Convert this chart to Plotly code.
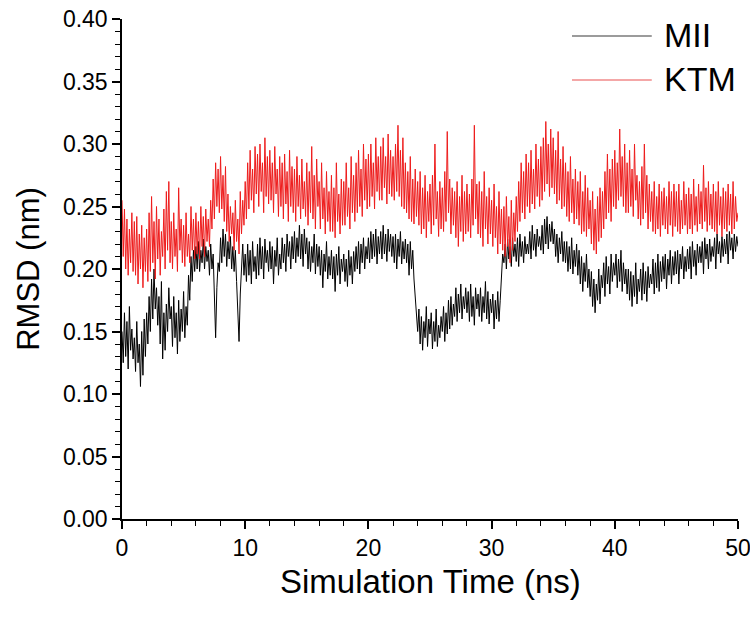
import plotly.graph_objects as go

# ---------------- data ----------------
TIME_STEP_NS = 0.1  # sampling step of the series below (0 .. 50 ns)

mii_rmsd = [
    0.150, 0.125, 0.165, 0.130, 0.158, 0.120, 0.170, 0.135, 0.152, 0.128,
    0.145, 0.118, 0.158, 0.125, 0.140, 0.106, 0.150, 0.115, 0.160, 0.130,
    0.165, 0.140, 0.178, 0.150, 0.192, 0.160, 0.200, 0.168, 0.185, 0.155,
    0.178, 0.140, 0.190, 0.128, 0.165, 0.135, 0.172, 0.150, 0.185, 0.160,
    0.170, 0.138, 0.178, 0.145, 0.165, 0.132, 0.175, 0.142, 0.168, 0.150,
    0.182, 0.145, 0.170, 0.155, 0.195, 0.175, 0.210, 0.190, 0.215, 0.198,
    0.218, 0.200, 0.222, 0.198, 0.215, 0.205, 0.224, 0.200, 0.218, 0.206,
    0.215, 0.195, 0.220, 0.200, 0.212, 0.170, 0.145, 0.185, 0.205, 0.198,
    0.225, 0.205, 0.232, 0.210, 0.228, 0.202, 0.222, 0.208, 0.226, 0.200,
    0.218, 0.198, 0.215, 0.190, 0.165, 0.142, 0.180, 0.205, 0.220, 0.195,
    0.212, 0.190, 0.220, 0.195, 0.215, 0.188, 0.222, 0.198, 0.210, 0.192,
    0.220, 0.195, 0.225, 0.200, 0.218, 0.192, 0.224, 0.205, 0.215, 0.198,
    0.222, 0.200, 0.218, 0.188, 0.215, 0.202, 0.225, 0.195, 0.212, 0.200,
    0.225, 0.205, 0.220, 0.198, 0.228, 0.210, 0.222, 0.200, 0.226, 0.208,
    0.230, 0.205, 0.225, 0.210, 0.235, 0.208, 0.228, 0.202, 0.232, 0.212,
    0.225, 0.200, 0.222, 0.198, 0.218, 0.205, 0.228, 0.196, 0.220, 0.202,
    0.218, 0.195, 0.215, 0.185, 0.212, 0.198, 0.222, 0.192, 0.210, 0.195,
    0.215, 0.192, 0.210, 0.182, 0.212, 0.195, 0.218, 0.188, 0.208, 0.198,
    0.212, 0.190, 0.208, 0.186, 0.215, 0.195, 0.210, 0.188, 0.214, 0.198,
    0.218, 0.200, 0.222, 0.196, 0.220, 0.205, 0.225, 0.200, 0.218, 0.208,
    0.225, 0.205, 0.230, 0.208, 0.228, 0.210, 0.232, 0.204, 0.226, 0.212,
    0.230, 0.208, 0.235, 0.212, 0.228, 0.206, 0.232, 0.214, 0.228, 0.210,
    0.226, 0.205, 0.228, 0.200, 0.224, 0.210, 0.230, 0.204, 0.222, 0.208,
    0.224, 0.205, 0.220, 0.195, 0.222, 0.200, 0.215, 0.192, 0.175, 0.160,
    0.150, 0.168, 0.140, 0.162, 0.135, 0.158, 0.145, 0.170, 0.138, 0.160,
    0.148, 0.165, 0.136, 0.158, 0.142, 0.168, 0.138, 0.155, 0.145, 0.162,
    0.150, 0.170, 0.142, 0.165, 0.148, 0.175, 0.152, 0.178, 0.155, 0.172,
    0.162, 0.185, 0.158, 0.180, 0.165, 0.188, 0.160, 0.178, 0.168, 0.185,
    0.165, 0.182, 0.158, 0.188, 0.162, 0.178, 0.155, 0.185, 0.168, 0.180,
    0.162, 0.185, 0.158, 0.178, 0.165, 0.190, 0.160, 0.182, 0.156, 0.176,
    0.165, 0.180, 0.152, 0.175, 0.160, 0.182, 0.158, 0.175, 0.200, 0.212,
    0.205, 0.220, 0.200, 0.224, 0.208, 0.218, 0.202, 0.225, 0.210, 0.220,
    0.206, 0.225, 0.202, 0.228, 0.210, 0.222, 0.205, 0.226, 0.212, 0.220,
    0.212, 0.230, 0.208, 0.235, 0.215, 0.228, 0.210, 0.232, 0.218, 0.226,
    0.215, 0.235, 0.212, 0.240, 0.220, 0.242, 0.216, 0.236, 0.222, 0.238,
    0.220, 0.232, 0.210, 0.228, 0.205, 0.225, 0.212, 0.230, 0.206, 0.222,
    0.205, 0.222, 0.198, 0.218, 0.200, 0.225, 0.196, 0.215, 0.202, 0.220,
    0.195, 0.215, 0.188, 0.210, 0.182, 0.205, 0.190, 0.212, 0.185, 0.200,
    0.178, 0.198, 0.170, 0.192, 0.165, 0.188, 0.175, 0.200, 0.172, 0.195,
    0.185, 0.205, 0.178, 0.210, 0.188, 0.202, 0.180, 0.212, 0.190, 0.205,
    0.195, 0.212, 0.185, 0.208, 0.190, 0.215, 0.182, 0.205, 0.188, 0.200,
    0.180, 0.200, 0.175, 0.198, 0.170, 0.195, 0.178, 0.205, 0.172, 0.192,
    0.182, 0.200, 0.175, 0.205, 0.180, 0.198, 0.174, 0.202, 0.185, 0.196,
    0.188, 0.208, 0.180, 0.205, 0.185, 0.212, 0.182, 0.206, 0.190, 0.210,
    0.192, 0.212, 0.184, 0.208, 0.195, 0.215, 0.188, 0.210, 0.195, 0.214,
    0.196, 0.215, 0.188, 0.212, 0.200, 0.218, 0.192, 0.210, 0.198, 0.216,
    0.200, 0.218, 0.192, 0.222, 0.202, 0.215, 0.195, 0.220, 0.205, 0.218,
    0.205, 0.222, 0.196, 0.225, 0.208, 0.220, 0.200, 0.224, 0.206, 0.218,
    0.210, 0.225, 0.200, 0.228, 0.212, 0.222, 0.205, 0.226, 0.210, 0.224,
    0.212, 0.228, 0.204, 0.230, 0.215, 0.225, 0.208, 0.228, 0.214, 0.226,
    0.218,
]

ktm_rmsd = [
    0.255, 0.210, 0.248, 0.200, 0.240, 0.195, 0.232, 0.205, 0.245, 0.198,
    0.238, 0.195, 0.242, 0.188, 0.228, 0.200, 0.235, 0.185, 0.225, 0.198,
    0.232, 0.190, 0.245, 0.198, 0.258, 0.205, 0.238, 0.192, 0.250, 0.208,
    0.240, 0.195, 0.230, 0.210, 0.248, 0.200, 0.262, 0.215, 0.270, 0.205,
    0.238, 0.200, 0.245, 0.210, 0.232, 0.198, 0.265, 0.215, 0.240, 0.205,
    0.235, 0.202, 0.245, 0.210, 0.228, 0.205, 0.250, 0.215, 0.240, 0.208,
    0.245, 0.212, 0.238, 0.208, 0.250, 0.218, 0.242, 0.210, 0.248, 0.222,
    0.240, 0.218, 0.255, 0.232, 0.272, 0.240, 0.285, 0.250, 0.280, 0.245,
    0.290, 0.248, 0.275, 0.238, 0.282, 0.230, 0.260, 0.222, 0.250, 0.228,
    0.245, 0.215, 0.255, 0.222, 0.240, 0.212, 0.262, 0.228, 0.255, 0.235,
    0.270, 0.240, 0.285, 0.248, 0.295, 0.255, 0.280, 0.245, 0.298, 0.260,
    0.292, 0.250, 0.300, 0.262, 0.285, 0.245, 0.305, 0.258, 0.290, 0.252,
    0.295, 0.255, 0.285, 0.245, 0.298, 0.260, 0.280, 0.242, 0.290, 0.250,
    0.285, 0.240, 0.292, 0.252, 0.278, 0.238, 0.295, 0.250, 0.282, 0.245,
    0.280, 0.238, 0.290, 0.250, 0.275, 0.240, 0.288, 0.248, 0.270, 0.242,
    0.285, 0.235, 0.278, 0.245, 0.298, 0.240, 0.275, 0.232, 0.288, 0.250,
    0.270, 0.232, 0.285, 0.240, 0.265, 0.228, 0.278, 0.238, 0.262, 0.230,
    0.275, 0.230, 0.265, 0.225, 0.285, 0.238, 0.260, 0.228, 0.272, 0.235,
    0.270, 0.235, 0.285, 0.242, 0.265, 0.232, 0.290, 0.245, 0.275, 0.238,
    0.285, 0.245, 0.295, 0.250, 0.280, 0.242, 0.300, 0.255, 0.288, 0.248,
    0.292, 0.250, 0.300, 0.258, 0.285, 0.248, 0.305, 0.262, 0.290, 0.255,
    0.298, 0.255, 0.305, 0.265, 0.290, 0.252, 0.308, 0.260, 0.295, 0.258,
    0.290, 0.255, 0.300, 0.262, 0.315, 0.258, 0.295, 0.250, 0.305, 0.248,
    0.285, 0.245, 0.278, 0.240, 0.290, 0.238, 0.272, 0.236, 0.280, 0.242,
    0.270, 0.235, 0.278, 0.228, 0.265, 0.232, 0.275, 0.225, 0.262, 0.238,
    0.268, 0.228, 0.275, 0.235, 0.300, 0.240, 0.262, 0.226, 0.270, 0.232,
    0.265, 0.230, 0.278, 0.238, 0.310, 0.245, 0.272, 0.228, 0.265, 0.235,
    0.262, 0.225, 0.270, 0.218, 0.258, 0.230, 0.275, 0.222, 0.262, 0.228,
    0.268, 0.230, 0.260, 0.225, 0.272, 0.235, 0.315, 0.240, 0.268, 0.228,
    0.270, 0.225, 0.262, 0.218, 0.278, 0.232, 0.258, 0.220, 0.265, 0.228,
    0.255, 0.218, 0.268, 0.225, 0.250, 0.212, 0.262, 0.220, 0.248, 0.215,
    0.250, 0.210, 0.258, 0.218, 0.242, 0.205, 0.255, 0.215, 0.245, 0.222,
    0.258, 0.230, 0.270, 0.238, 0.285, 0.245, 0.278, 0.240, 0.292, 0.250,
    0.285, 0.245, 0.295, 0.252, 0.280, 0.248, 0.300, 0.258, 0.288, 0.250,
    0.298, 0.255, 0.305, 0.262, 0.318, 0.268, 0.300, 0.258, 0.312, 0.265,
    0.305, 0.260, 0.295, 0.252, 0.310, 0.255, 0.288, 0.248, 0.298, 0.250,
    0.285, 0.242, 0.278, 0.238, 0.290, 0.245, 0.272, 0.236, 0.280, 0.240,
    0.270, 0.235, 0.278, 0.228, 0.262, 0.230, 0.275, 0.226, 0.265, 0.232,
    0.255, 0.220, 0.262, 0.215, 0.248, 0.212, 0.258, 0.222, 0.265, 0.225,
    0.262, 0.232, 0.278, 0.240, 0.292, 0.245, 0.280, 0.238, 0.288, 0.250,
    0.295, 0.248, 0.285, 0.255, 0.312, 0.258, 0.290, 0.250, 0.300, 0.245,
    0.285, 0.245, 0.295, 0.250, 0.280, 0.242, 0.300, 0.255, 0.275, 0.240,
    0.270, 0.235, 0.282, 0.240, 0.300, 0.245, 0.275, 0.232, 0.268, 0.238,
    0.262, 0.230, 0.270, 0.228, 0.258, 0.232, 0.268, 0.226, 0.262, 0.235,
    0.265, 0.232, 0.258, 0.228, 0.270, 0.235, 0.262, 0.226, 0.268, 0.234,
    0.262, 0.230, 0.268, 0.228, 0.255, 0.232, 0.270, 0.235, 0.260, 0.228,
    0.265, 0.232, 0.260, 0.228, 0.272, 0.235, 0.258, 0.230, 0.268, 0.236,
    0.262, 0.232, 0.283, 0.238, 0.265, 0.230, 0.270, 0.235, 0.260, 0.232,
    0.268, 0.230, 0.262, 0.228, 0.270, 0.235, 0.258, 0.226, 0.265, 0.232,
    0.262, 0.230, 0.268, 0.235, 0.260, 0.228, 0.270, 0.232, 0.258, 0.238,
    0.245,
]

series_names = ["MII", "KTM"]
x_tick_values = [0, 10, 20, 30, 40, 50]
y_tick_values = [0.00, 0.05, 0.10, 0.15, 0.20, 0.25, 0.30, 0.35, 0.40]
x_title = "Simulation Time (ns)"
y_title = "RMSD (nm)"

time_ns = [round(i * TIME_STEP_NS, 2) for i in range(len(mii_rmsd))]

# ---------------- figure ----------------
FONT = "Liberation Sans, Arial, sans-serif"
colors = ["#000000", "#ee1c1c"]
legend_line_colors = ["#7a7a7a", "#f08a8a"]

fig = go.Figure()
fig.add_trace(go.Scatter(x=time_ns, y=mii_rmsd, mode="lines", name=series_names[0],
                         line=dict(color=colors[0], width=1), showlegend=False))
fig.add_trace(go.Scatter(x=time_ns, y=ktm_rmsd, mode="lines", name=series_names[1],
                         line=dict(color=colors[1], width=1), showlegend=False))

# hand-drawn legend (long sample lines like the reference)
legend_rows = [(0.966, series_names[0], legend_line_colors[0]),
               (0.878, series_names[1], legend_line_colors[1])]
for yp, name, lc in legend_rows:
    fig.add_shape(type="line", xref="paper", yref="paper",
                  x0=0.7305, x1=0.860, y0=yp, y1=yp,
                  line=dict(color=lc, width=1.5))
    fig.add_annotation(xref="paper", yref="paper", x=0.877, y=yp + 0.003,
                       text=name, showarrow=False, xanchor="left", yanchor="middle",
                       font=dict(family=FONT, size=34, color="#000000"))

# x-axis title placed as text below the tick labels
fig.add_annotation(xref="paper", yref="paper", x=0.5, y=-0.124,
                   text=x_title, showarrow=False, xanchor="center", yanchor="middle",
                   font=dict(family=FONT, size=33, color="#000000"))

axis_common = dict(showline=True, linecolor="#000000", linewidth=1.5,
                   ticks="outside", tickcolor="#000000", tickwidth=1.5, ticklen=8,
                   showgrid=False, zeroline=False, mirror=False,
                   ticklabeloverflow="allow",
                   tickfont=dict(family=FONT, size=23, color="#000000"))

fig.update_xaxes(range=[0, 50], tickvals=x_tick_values,
                 minor=dict(dtick=2, ticks="outside", ticklen=5, tickwidth=1.2, tickcolor="#000000"),
                 **axis_common)
fig.update_yaxes(range=[0, 0.40], tickvals=y_tick_values, tickformat=".2f",
                 minor=dict(dtick=0.01, ticks="outside", ticklen=5, tickwidth=1.2, tickcolor="#000000"),
                 title=dict(text=y_title, font=dict(family=FONT, size=31, color="#000000"),
                            standoff=14),
                 **axis_common)

fig.update_layout(width=750, height=621,
                  margin=dict(l=122, r=12, t=19, b=102, autoexpand=False),
                  paper_bgcolor="#ffffff", plot_bgcolor="#ffffff",
                  font=dict(family=FONT, color="#000000"))

# remove the page's default 8 px body margin so the figure fills the window
fig.write_html("out.html", config={"displayModeBar": False},
               post_script="document.body.style.margin='0';")
